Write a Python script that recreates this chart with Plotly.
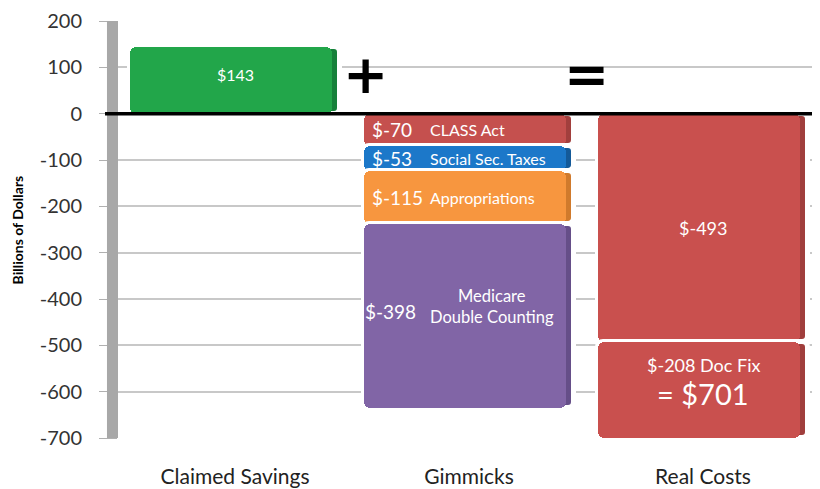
import plotly.graph_objects as go

categories = ["Claimed Savings", "Gimmicks", "Real Costs"]

# Claimed savings
claimed_value = [143]
claimed_label = ["$143"]

# Gimmicks stack (top to bottom)
gimmick_values = [-70, -53, -115, -398]
gimmick_value_labels = ["$-70", "$-53", "$-115", "$-398"]
gimmick_names = ["CLASS Act", "Social Sec. Taxes", "Appropriations", "Medicare<br>Double Counting"]
gimmick_colors = ["#C5504E", "#1C78C9", "#F7963F", "#8165A6"]
gimmick_dark = ["#A23F3D", "#145A99", "#D07A2C", "#654E88"]

# Real costs stack (top to bottom)
real_values = [-493, -208]
real_labels = ["$-493", "$-208 Doc Fix"]
real_total_label = "= $701"
real_color = "#C9504E"
real_dark = "#A03E3C"

y_ticks = [200, 100, 0, -100, -200, -300, -400, -500, -600, -700]

FONT = "Lato"
W = 0.895
FRONT = 0.86

fig = go.Figure()

def add_segment(cat, base, val, color, dark):
    # darker back (3D side) then lighter front
    fig.add_trace(go.Bar(x=[cat], y=[val], base=[base], width=[W], offset=-W / 2,
                         marker=dict(color=dark, line=dict(color="white", width=5), cornerradius=6),
                         showlegend=False, hoverinfo="skip"))
    fig.add_trace(go.Bar(x=[cat], y=[val], base=[base], width=[FRONT], offset=-W / 2,
                         marker=dict(color=color, line=dict(width=0), cornerradius=6),
                         showlegend=False))

add_segment(categories[0], 0, claimed_value[0], "#22A64A", "#16803A")

base = 0
gimmick_mids = []
for v, c, d in zip(gimmick_values, gimmick_colors, gimmick_dark):
    add_segment(categories[1], base, v, c, d)
    gimmick_mids.append(base + v / 2)
    base += v

base = 0
real_mids = []
for v in real_values:
    add_segment(categories[2], base, v, real_color, real_dark)
    real_mids.append(base + v / 2)
    base += v

ann = []
ann.append(dict(x=categories[0], y=claimed_value[0] / 2, text=claimed_label[0], showarrow=False,
                yshift=6, font=dict(family=FONT, size=16, color="white")))
for i, (mid, vl, nm) in enumerate(zip(gimmick_mids, gimmick_value_labels, gimmick_names)):
    if i < 3:
        ann.append(dict(x=categories[1], y=mid, text=vl, showarrow=False, xshift=-99, xanchor="left",
                        font=dict(family=FONT, size=19, color="white")))
        ann.append(dict(x=categories[1], y=mid, text=nm, showarrow=False, xshift=-41, xanchor="left",
                        font=dict(family=FONT, size=16, color="white")))
    else:
        ann.append(dict(x=categories[1], y=mid, text=vl, showarrow=False, xshift=-106, xanchor="left",
                        yshift=5, font=dict(family=FONT, size=19, color="white")))
        ann.append(dict(x=categories[1], y=mid, text=nm, showarrow=False, xshift=23, yshift=10,
                        font=dict(family=FONT, size=16.5, color="white")))
ann.append(dict(x=categories[2], y=real_mids[0], text=real_labels[0], showarrow=False,
                font=dict(family=FONT, size=18, color="white")))
ann.append(dict(x=categories[2], y=real_mids[1], text=real_labels[1], showarrow=False, yshift=25,
                font=dict(family=FONT, size=18, color="white")))
ann.append(dict(x=categories[2], y=real_mids[1], text=real_total_label, showarrow=False, yshift=-3,
                font=dict(family=FONT, size=29, color="white")))
# operators
ann.append(dict(x=0.556, y=85, text="<b>+</b>", showarrow=False,
                font=dict(family="DejaVu Sans", size=54, color="black")))
ann.append(dict(x=1.5, y=85, text="<b>=</b>", showarrow=False,
                font=dict(family="DejaVu Sans", size=54, color="black")))
# y-axis title
ann.append(dict(xref="paper", yref="paper", x=-0.1425, xanchor="center", y=0.5,
                text="<b>Billions of Dollars</b>", textangle=-90, showarrow=False,
                font=dict(family=FONT, size=14, color="black")))

fig.update_layout(
    width=820, height=489,
    margin=dict(l=110, r=8, t=13, b=59),
    paper_bgcolor="white", plot_bgcolor="white",
    barmode="overlay",
    bargap=0,
    annotations=ann,
    font=dict(family=FONT, color="#333333"),
    xaxis=dict(type="category", categoryorder="array", categoryarray=categories,
               range=[-0.5, 2.5], showgrid=False, ticks="", ticklabelstandoff=24, automargin=False,
               tickfont=dict(family=FONT, size=21, color="#222222"), showline=False, zeroline=False),
    yaxis=dict(range=[-700, 200], tickvals=y_ticks, ticktext=[str(t) for t in y_ticks],
               showgrid=True, gridcolor="#C8C8C8", gridwidth=1.5, zeroline=False, automargin=False,
               ticks="outside", ticklen=18, tickcolor="#B0B0B0", ticklabelstandoff=13,
               ticklabeloverflow="allow",
               tickfont=dict(family=FONT, size=20, color="#333333"), showline=False),
    shapes=[
        dict(type="rect", xref="paper", yref="paper", x0=-0.0157, x1=0, y0=0, y1=1,
             fillcolor="#A8A8A8", line=dict(width=0), layer="above"),
        dict(type="line", xref="paper", yref="y", x0=-0.0185, x1=1, y0=0, y1=0,
             line=dict(color="black", width=3.5), layer="above"),
    ],
)

fig.write_html("out.html")
